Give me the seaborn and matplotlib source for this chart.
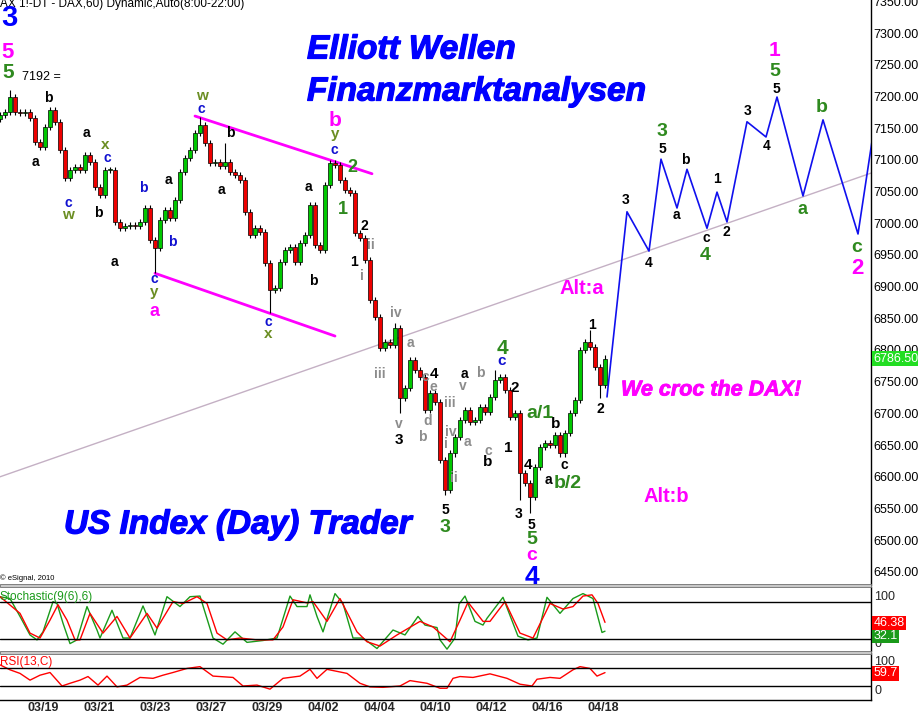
import numpy as np
import pandas as pd
import matplotlib
matplotlib.use('Agg')
import matplotlib.pyplot as plt
import matplotlib.transforms as mtrans
import matplotlib.patheffects as pe
from matplotlib.patches import Rectangle
import seaborn as sns

sns.set_theme(style='white')
plt.rcParams['font.family'] = ['Liberation Sans', 'DejaVu Sans']

W, H = 918, 718

# DAX 60 min closes, one candle every 2.5 hourly bars
closes = [7171, 7175, 7199, 7175, 7174, 7175, 7166, 7128, 7120, 7152,
          7179, 7160, 7115, 7071, 7084, 7089, 7084, 7108, 7097, 7057,
          7044, 7084, 7084, 7002, 6992, 6996, 6997, 6996, 7002, 7024,
          6973, 6961, 7005, 7021, 7008, 7037, 7081, 7103, 7115, 7142,
          7155, 7126, 7095, 7097, 7090, 7097, 7081, 7076, 7068, 7018,
          6981, 6992, 6986, 6937, 6895, 6898, 6939, 6958, 6962, 6939,
          6969, 6981, 7029, 6966, 6958, 7060, 7095, 7092, 7068, 7052,
          7048, 6985, 6977, 6942, 6879, 6852, 6803, 6813, 6808, 6835,
          6724, 6740, 6784, 6768, 6757, 6705, 6732, 6718, 6626, 6579,
          6637, 6663, 6690, 6705, 6686, 6690, 6710, 6702, 6726, 6753,
          6757, 6737, 6694, 6701, 6606, 6590, 6568, 6615, 6647, 6653,
          6650, 6666, 6637, 6669, 6701, 6721, 6800, 6813, 6805, 6773,
          6745, 6786.5]
first_open = 7165
bar_step = 2.5
# long wicks (candle index -> price)
wick_highs = {2: 7210, 40: 7168, 45: 7126, 62: 7033, 79: 6843, 99: 6769, 118: 6832}
wick_lows = {31: 6921, 54: 6858, 80: 6701, 89: 6571, 104: 6563, 106: 6543, 120: 6724}

# projected wave path (hourly bar, price)
proj_bars = [303.5, 313.5, 324.5, 330.5, 338.5, 343.5, 353.5, 358.5, 363.5,
             373.5, 383, 388.5, 401.5, 411.5, 429, 438]
proj_prices = [6726, 7018, 6956, 7101, 7024, 7085, 6992, 7049, 7002,
               7160, 7136, 7199, 7043, 7163, 6983, 7171]

# trend line and channel
trend_bars = [0, 435.5]
trend_prices = [6600, 7079]
chan_up_bars = [97.5, 186]
chan_up_prices = [7169, 7078]
chan_lo_bars = [77.5, 167.5]
chan_lo_prices = [6921, 6822]

# Stochastic(9(6),6)
k_bars = [0, 5, 10, 15, 18.5, 21.5, 26.5, 28.5, 31.5, 35, 38.5, 43.5, 48.5, 50,
          56, 61.5, 65, 71.5, 77.5, 83.5, 90, 95, 100, 106.5, 111.5, 117.5,
          123.5, 131.5, 138.5, 145, 148.5, 153.5, 155, 158.5, 161.5, 167.5,
          171.5, 176.5, 181.5, 188.5, 196.5, 202.5, 209, 212.5, 218.5, 220,
          223.5, 227.5, 229.5, 232.5, 237.5, 241.5, 243.5, 251.5, 259, 264,
          268.5, 273.5, 280, 286.5, 291.5, 296.5, 301, 302.5]
k_vals = [88, 85, 56, 26, 18, 31, 80, 77, 45, 12, 18, 72, 34, 21,
          66, 21, 21, 73, 26, 88, 72, 88, 89, 21, 11, 31,
          14, 17, 21, 89, 72, 72, 91, 56, 31, 93,
          77, 21, 21, 4, 34, 26, 56, 42, 38, 18,
          3, 21, 76, 89, 48, 42, 53, 87, 24, 18,
          21, 87, 61, 85, 93, 85, 30, 32.1]
d_bars = [0, 10, 15, 20, 25, 29, 33.5, 37.5, 40, 45, 51.5, 58.5, 65, 73.5,
          78.5, 86.5, 91.5, 98.5, 103.5, 108.5, 113.5, 120, 128.5, 136.5,
          141.5, 146.5, 153.5, 156.5, 163.5, 170, 178.5, 183.5, 190, 198.5,
          210, 216.5, 225, 230, 234, 241.5, 245, 252.5, 260, 266.5, 275,
          281.5, 286.5, 291.5, 296, 299, 302.5]
d_vals = [88, 61, 29, 21, 50, 75, 50, 18, 18, 61, 29, 56, 21, 61,
          37, 80, 77, 88, 77, 29, 18, 21, 18, 18,
          39, 83, 78, 80, 48, 85, 31, 15, 8, 26,
          48, 39, 15, 50, 79, 48, 48, 80, 29, 21, 77,
          68, 72, 89, 91, 77, 46.38]

# RSI(13,C)
rsi_bars = [0, 5, 10, 15, 20, 25, 31, 35, 40, 44, 49, 53.5, 58.5, 63.5, 70,
            76.5, 81.5, 86.5, 93.5, 100, 106.5, 116.5, 121.5, 128.5, 135,
            141.5, 150, 155, 158.5, 163.5, 173.5, 180, 185, 191.5, 200, 205,
            213.5, 220, 223.5, 226.5, 230, 236.5, 245, 253.5, 260, 266,
            268.5, 275, 280, 286.5, 290, 295, 298.5, 302.5]
rsi_vals = [77, 66, 58, 43, 54, 60, 30, 36, 43, 51, 32, 52, 28, 32, 49,
            47, 54, 60, 69, 73, 52, 49, 30, 32, 23,
            47, 52, 67, 47, 67, 58, 36, 28, 27, 30, 42,
            36, 25, 25, 47, 51, 49, 57, 47, 34, 30,
            45, 49, 47, 66, 73, 69, 52, 59.7]

date_pos = [21.5, 49.5, 77.5, 105.5, 133.5, 161.5, 189.5, 217.5, 245.5, 273.5, 301.5]
date_labels = ['03/19', '03/21', '03/23', '03/27', '03/29', '04/02',
               '04/04', '04/10', '04/12', '04/16', '04/18']

price_ticks = np.arange(6450, 7351, 50)

BLUE = '#0000ff'
MAG = '#ff00ff'
GRN = '#2f8a1f'
OLV = '#6b8e23'
GRY = '#8c8c8c'
BLK = '#000000'
CBL = '#1010d0'

# wave labels: text, x px, y px, colour, size
labels = [
    ('b', 48, 98, BLK, 10), ('a', 35, 162, BLK, 10), ('a', 86, 133, BLK, 10),
    ('x', 105, 145, OLV, 11), ('c', 107, 158, CBL, 10),
    ('c', 68, 203, CBL, 10), ('w', 68, 215, OLV, 11), ('b', 98, 213, BLK, 10),
    ('a', 114, 262, BLK, 10), ('b', 143, 188, CBL, 10), ('b', 172, 242, CBL, 10),
    ('a', 168, 180, BLK, 10),
    ('c', 154, 279, CBL, 10), ('y', 154, 292, OLV, 11), ('a', 154, 311, MAG, 13),
    ('w', 202, 96, OLV, 11), ('c', 201, 109, CBL, 10), ('b', 230, 133, BLK, 10),
    ('a', 221, 190, BLK, 10), ('c', 268, 322, CBL, 10), ('x', 268, 334, OLV, 11),
    ('a', 308, 187, BLK, 10), ('b', 313, 281, BLK, 10),
    ('b', 335, 120, MAG, 15), ('y', 335, 134, OLV, 11), ('c', 334, 150, CBL, 10),
    ('2', 352, 168, GRN, 13), ('1', 343, 210, GRN, 13),
    ('2', 364, 226, BLK, 10), ('1', 354, 262, BLK, 10),
    ('ii', 371, 245, GRY, 10), ('i', 362, 276, GRY, 10),
    ('iv', 396, 313, GRY, 10), ('iii', 380, 374, GRY, 10), ('v', 399, 424, GRY, 10),
    ('3', 399, 440, BLK, 11), ('a', 410, 343, GRY, 10),
    ('4', 434, 374, BLK, 11), ('c', 425, 377, GRY, 10), ('e', 433, 387, GRY, 10),
    ('d', 428, 421, GRY, 10), ('b', 422, 437, GRY, 10),
    ('iii', 450, 403, GRY, 10), ('i', 446, 444, GRY, 10), ('ii', 454, 478, GRY, 10),
    ('iv', 451, 432, GRY, 10), ('a', 467, 442, GRY, 10), ('v', 463, 386, GRY, 10),
    ('a', 464, 374, BLK, 10), ('b', 480, 373, GRY, 10),
    ('c', 488, 451, GRY, 10), ('b', 488, 462, BLK, 11),
    ('5', 445, 510, BLK, 10), ('3', 445, 527, GRN, 14),
    ('4', 502, 349, GRN, 15), ('c', 502, 361, CBL, 11),
    ('2', 515, 388, BLK, 11), ('1', 508, 448, BLK, 11),
    ('a/1', 540, 413, GRN, 14), ('b', 556, 424, BLK, 11),
    ('4', 528, 465, BLK, 11), ('a', 548, 480, BLK, 10), ('c', 564, 465, BLK, 10),
    ('b/2', 568, 483, GRN, 14),
    ('3', 519, 514, BLK, 10), ('5', 531, 525, BLK, 10),
    ('5', 532, 540, GRN, 14), ('c', 532, 555, MAG, 14), ('4', 532, 577, BLUE, 19),
    ('1', 592, 325, BLK, 10), ('2', 600, 409, BLK, 10),
    ('3', 626, 200, BLK, 10), ('4', 649, 263, BLK, 10),
    ('3', 662, 132, GRN, 14), ('5', 662, 149, BLK, 10),
    ('b', 685, 160, BLK, 10), ('a', 676, 215, BLK, 10),
    ('c', 706, 238, BLK, 10), ('4', 705, 255, GRN, 14),
    ('1', 717, 179, BLK, 10), ('2', 726, 232, BLK, 10),
    ('3', 748, 111, BLK, 10), ('4', 767, 146, BLK, 10),
    ('1', 775, 50, MAG, 15), ('5', 775, 72, GRN, 14), ('5', 776, 89, BLK, 10),
    ('a', 803, 209, GRN, 13), ('b', 822, 108, GRN, 14),
    ('c', 857, 248, GRN, 14), ('2', 857, 268, MAG, 16),
    ('3', 9, 18, BLUE, 21), ('5', 8, 52, MAG, 16), ('5', 8, 73, GRN, 15),
]


def fx(x):
    return x / W


def fy(y):
    return 1 - y / H


fig = plt.figure(figsize=(W / 100, H / 100), dpi=100)
fig.patch.set_facecolor('white')

ax = fig.add_axes([0, fy(585), fx(871), 585 / H])
ax_st = fig.add_axes([0, fy(651), fx(871), 64 / H])
ax_rsi = fig.add_axes([0, fy(699.5), fx(871), 46.5 / H])

xmax = 871 / 2
for a in (ax, ax_st, ax_rsi):
    a.set_xlim(0, xmax)
    a.set_facecolor('white')
    for s in ('left', 'top', 'bottom'):
        a.spines[s].set_visible(False)
    a.spines['right'].set_visible(True)
    a.spines['right'].set_color('black')
    a.spines['right'].set_linewidth(1)
    a.set_xticks([])
    a.grid(False)

# ---- candles ----
closes_a = np.array(closes, dtype=float)
opens_a = np.concatenate([[first_open], closes_a[:-1]])
xs = np.arange(len(closes_a)) * bar_step
highs = np.maximum(opens_a, closes_a) + 5
lows = np.minimum(opens_a, closes_a) - 5
for i, v in wick_highs.items():
    highs[i] = v
for i, v in wick_lows.items():
    lows[i] = v
up = closes_a >= opens_a
body_bot = np.minimum(opens_a, closes_a)
body_h = np.maximum(np.abs(closes_a - opens_a), 1.5)
ax.vlines(xs, lows, highs, color='black', linewidth=0.8, zorder=2)
ax.bar(xs, body_h, bottom=body_bot, width=1.8,
       color=np.where(up, '#00c800', '#ee0000'), edgecolor='black',
       linewidth=0.5, zorder=3)

# trend line, channel and projection
sns.lineplot(x=trend_bars, y=trend_prices, ax=ax, color='#c4b0c4', linewidth=1, zorder=1)
sns.lineplot(x=chan_up_bars, y=chan_up_prices, ax=ax, color=MAG, linewidth=2, zorder=1)
sns.lineplot(x=chan_lo_bars, y=chan_lo_prices, ax=ax, color=MAG, linewidth=2, zorder=1)
proj = pd.DataFrame({'bar': proj_bars, 'price': proj_prices})
sns.lineplot(data=proj, x='bar', y='price', ax=ax, color='#1010ee', linewidth=1.2,
             sort=False, zorder=4)

ax.set_xlim(0, xmax)
ax.set_ylim(7300 - (585 - 33) * 1.5773, 7300 + 33 * 1.5773)
ax.yaxis.tick_right()
ax.set_yticks(price_ticks)
ax.set_yticklabels([f'{v:.2f}' for v in price_ticks])
ax.tick_params(axis='y', length=0, pad=2, labelsize=9, labelcolor='black')
ax.set_xlabel('')
ax.set_ylabel('')
tr = mtrans.blended_transform_factory(ax.transAxes, ax.transData)
ax.text(1.003, 6786.5, '6786.50', transform=tr, ha='left', va='center',
        color='white', fontsize=9,
        bbox=dict(boxstyle='square,pad=0.12', fc='#22dd22', ec='none'), zorder=6)

# ---- stochastic ----
sns.lineplot(x=k_bars, y=k_vals, ax=ax_st, color='#1a9a1a', linewidth=1)
sns.lineplot(x=d_bars, y=d_vals, ax=ax_st, color='#ff0000', linewidth=1)
ax_st.axhline(80, color='black', linewidth=1)
ax_st.axhline(20, color='black', linewidth=1)
ax_st.set_ylim(0, 103.7)
ax_st.set_yticks([])
ax_st.set_xlabel('')
ax_st.set_ylabel('')
ax_st.text(0.0, 0.84, 'Stochastic(9(6),6)', transform=ax_st.transAxes, ha='left',
           va='center', color='#1a9a1a', fontsize=8.5)
ax_st.text(1.004, 0.844, '100', transform=ax_st.transAxes, ha='left', va='center', fontsize=9)
ax_st.text(1.004, 0.109, '0', transform=ax_st.transAxes, ha='left', va='center', fontsize=9)
ax_st.text(1.003, 0.234, '32.1', transform=ax_st.transAxes, ha='left', va='center',
           color='white', fontsize=9,
           bbox=dict(boxstyle='square,pad=0.1', fc='#1a9a1a', ec='none'), zorder=5)
ax_st.text(1.003, 0.4375, '46.38', transform=ax_st.transAxes, ha='left', va='center',
           color='white', fontsize=9,
           bbox=dict(boxstyle='square,pad=0.1', fc='#ff0000', ec='none'), zorder=6)

# ---- RSI ----
sns.lineplot(x=rsi_bars, y=rsi_vals, ax=ax_rsi, color='#ff0000', linewidth=1)
ax_rsi.axhline(70, color='black', linewidth=1)
ax_rsi.axhline(30, color='black', linewidth=1)
ax_rsi.set_ylim(0, 103.3)
ax_rsi.set_yticks([])
ax_rsi.set_ylabel('')
ax_rsi.spines['bottom'].set_visible(True)
ax_rsi.spines['bottom'].set_color('black')
ax_rsi.spines['bottom'].set_linewidth(1)
ax_rsi.set_xticks(date_pos)
ax_rsi.set_xticklabels(date_labels)
ax_rsi.tick_params(axis='x', length=0, pad=2, labelsize=9)
for t in ax_rsi.get_xticklabels():
    t.set_fontweight('bold')
ax_rsi.set_xlabel('')
ax_rsi.set_xlim(0, xmax)
ax_rsi.text(0.0, 0.8, 'RSI(13,C)', transform=ax_rsi.transAxes, ha='left',
            va='center', color='#ff0000', fontsize=8.5)
ax_rsi.text(1.004, 0.806, '100', transform=ax_rsi.transAxes, ha='left', va='center', fontsize=9)
ax_rsi.text(1.004, 0.183, '0', transform=ax_rsi.transAxes, ha='left', va='center', fontsize=9)
ax_rsi.text(1.003, 0.56, '59.7', transform=ax_rsi.transAxes, ha='left', va='center',
            color='white', fontsize=9,
            bbox=dict(boxstyle='square,pad=0.1', fc='#ff0000', ec='none'), zorder=6)

# panel separators
for yy in (584, 651):
    fig.add_artist(Rectangle((0, fy(yy + 3)), fx(871), 3 / H, facecolor='#c8c8c8',
                             edgecolor='#707070', linewidth=0.6))

# ---- texts ----
fig.text(0, fy(4), 'AX 1!-DT - DAX,60) Dynamic,Auto(8:00-22:00)', ha='left',
         va='center', fontsize=8.5, color='black')
fig.text(fx(22), fy(77), '7192 =', ha='left', va='center', fontsize=9, color='black')
fig.text(0, fy(578), '\u00a9 eSignal, 2010', ha='left', va='center', fontsize=5.5,
         color='black')

heavy = [pe.withStroke(linewidth=0.9, foreground=BLUE)]
big = dict(fontweight='bold', fontstyle='italic', ha='left', va='center', color=BLUE,
           path_effects=heavy)
fig.text(fx(307), fy(50), 'Elliott Wellen', fontsize=24, **big)
fig.text(fx(307), fy(92), 'Finanzmarktanalysen', fontsize=24, **big)
fig.text(fx(64), fy(525), 'US Index (Day) Trader', fontsize=24, **big)
fig.text(fx(621), fy(390), 'We croc the DAX!', fontsize=15.5, fontweight='bold',
         fontstyle='italic', ha='left', va='center', color=MAG,
         path_effects=[pe.withStroke(linewidth=0.6, foreground=MAG)])
fig.text(fx(560), fy(289), 'Alt:a', fontsize=14.5, fontweight='bold', ha='left',
         va='center', color=MAG)
fig.text(fx(643), fy(497), 'Alt:b', fontsize=14.5, fontweight='bold', ha='left',
         va='center', color=MAG)

for s, x, y, c, size in labels:
    fig.text(fx(x), fy(y), s, ha='center', va='center', color=c, fontsize=size,
             fontweight='bold')

fig.savefig('out.png', dpi=100)
